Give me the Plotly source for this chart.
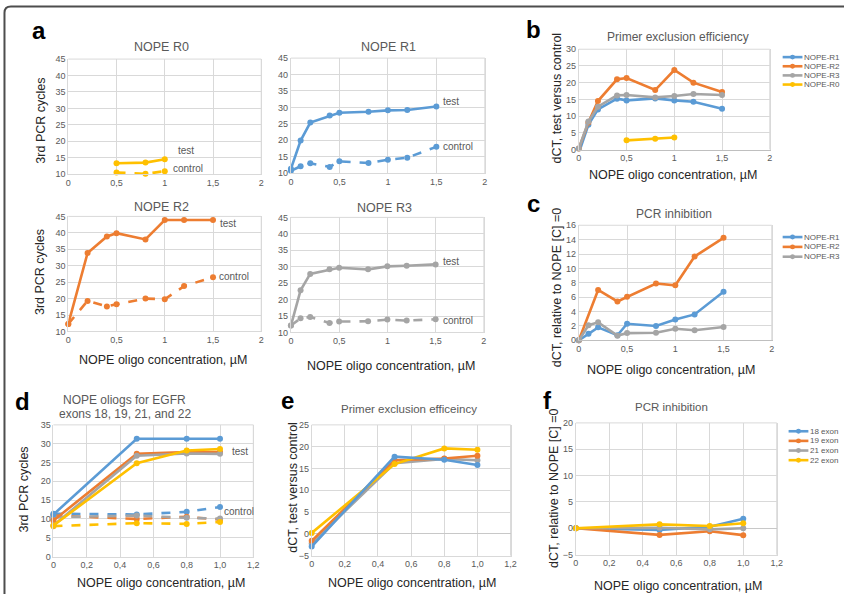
import plotly.graph_objects as go

W, H = 850, 599
FONT = "Liberation Sans, Arial, sans-serif"
BLUE, ORANGE, GREY, YELLOW = "#5B9BD5", "#ED7D31", "#A5A5A5", "#FFC000"
GRID = "#D9D9D9"
TICKC = "#595959"

# ---------------- data ----------------
x_r0 = [0.5, 0.8, 1.0]
r0_test = [13.3, 13.5, 14.5]
r0_ctrl = [10.5, 10.1, 10.9]

x_a = [0, 0.1, 0.2, 0.4, 0.5, 0.8, 1.0, 1.2, 1.5]
r1_test = [11.3, 19.9, 25.4, 27.5, 28.4, 28.7, 29.1, 29.2, 30.3]
r1_ctrl = [10.7, 12.1, 13.0, 11.9, 13.6, 13.1, 14.1, 14.7, 18.0]

x_r2 = [0, 0.2, 0.4, 0.5, 0.8, 1.0, 1.2, 1.5]
r2_test = [12.3, 33.9, 38.9, 39.9, 38.0, 43.9, 43.9, 43.9]
r2_ctrl = [12.3, 19.3, 17.6, 18.3, 20.0, 19.8, 23.8, 26.5]

r3_test = [12.1, 22.8, 27.8, 29.2, 29.7, 29.2, 30.1, 30.3, 30.7]
r3_ctrl = [12.1, 14.3, 14.7, 12.9, 13.3, 13.4, 13.9, 13.6, 14.0]

b_r1 = [-1.0, 7.4, 12.0, 15.2, 14.7, 15.3, 14.7, 14.3, 12.2]
b_r2 = [0.3, 8.1, 14.5, 21.0, 21.4, 17.8, 23.8, 20.0, 17.2]
b_r3 = [0.3, 8.4, 12.8, 16.2, 16.3, 15.6, 16.0, 16.6, 16.3]
b_r0 = [2.75, 3.2, 3.6]

c_r1 = [0, 0.9, 1.8, 0.7, 2.3, 2.0, 2.9, 3.6, 6.75]
c_r2 = [0, 7.0, 5.4, 6.05, 7.9, 7.65, 11.65, 14.25]
c_r3 = [0, 2.1, 2.5, 0.65, 1.0, 1.05, 1.6, 1.4, 1.85]

x_d = [0, 0.5, 0.8, 1.0]
d18_test = [11.2, 31.3, 31.3, 31.3]
d18_ctrl = [11.4, 11.2, 11.9, 13.2]
d19_test = [9.6, 27.3, 27.8, 27.8]
d19_ctrl = [10.9, 10.0, 10.6, 9.8]
d21_test = [8.3, 26.8, 27.4, 27.3]
d21_ctrl = [10.5, 10.9, 10.3, 10.1]
d22_test = [8.3, 24.8, 28.2, 28.6]
d22_ctrl = [8.1, 8.9, 8.7, 9.2]

e18 = [-2.9, 17.7, 17.0, 15.8]
e19 = [-1.6, 16.9, 17.3, 17.9]
e21 = [-2.2, 16.2, 17.2, 16.9]
e22 = [0.2, 16.0, 19.6, 19.3]

f18 = [0, -0.3, 0.3, 1.8]
f19 = [0, -1.25, -0.55, -1.3]
f21 = [0, 0.1, -0.2, 0.0]
f22 = [0, 0.75, 0.45, 0.95]

xt_a = [0, 0.5, 1, 1.5, 2]
xt_a_text = ["0", "0,5", "1", "1,5", "2"]
xt_d = [0, 0.2, 0.4, 0.6, 0.8, 1.0, 1.2]
xt_d_text = ["0", "0,2", "0,4", "0,6", "0,8", "1,0", "1,2"]

legend_b = ["NOPE-R1", "NOPE-R2", "NOPE-R3", "NOPE-R0"]
legend_c = ["NOPE-R1", "NOPE-R2", "NOPE-R3"]
legend_f = ["18 exon", "19 exon", "21 exon", "22 exon"]

# ---------------- helpers ----------------
def fx(px):
    return px / W

def fy(py):
    return 1 - py / H

fig = go.Figure()
layout = dict(
    width=W, height=H, margin=dict(l=0, r=0, t=0, b=0),
    paper_bgcolor="white", plot_bgcolor="white", showlegend=False,
    font=dict(family=FONT, color=TICKC),
)
annotations = []
shapes = []

# panel boxes (pixel coordinates): x0, x1, ytop, ybottom, xrange, yrange, ydtick, xticks
panels = {
    1: (66, 261, 55, 172, [0, 2], [10, 45], 5, "a"),
    2: (291, 487, 54, 171, [0, 2], [10, 45], 5, "a"),
    3: (66, 261, 215, 332, [0, 2], [10, 45], 5, "a"),
    4: (291, 486, 216, 333, [0, 2], [10, 45], 5, "a"),
    5: (582, 775, 45, 147, [0, 2], [0, 30], 5, "a"),
    6: (582, 777, 224, 341, [0, 2], [0, 16], 2, "a"),
    7: (51, 253, 427, 561, [0, 1.2], [0, 35], 5, "d"),
    8: (312, 513, 427, 560, [0, 1.2], [-5, 25], 5, "d"),
    9: (579, 782, 425, 559, [0, 1.2], [-5, 20], 5, "d"),
}

for i, (x0, x1, yt, yb, xr, yr, dt, kind) in panels.items():
    sfx = "" if i == 1 else str(i)
    tv, tt = (xt_a, xt_a_text) if kind == "a" else (xt_d, xt_d_text)
    dark_x = i in (5, 6)
    layout["xaxis" + sfx] = dict(
        domain=[fx(x0), fx(x1)], anchor="y" + sfx, range=xr,
        tickvals=tv, ticktext=tt, showgrid=True, gridcolor=GRID, gridwidth=1,
        showline=True, linecolor="#BFBFBF" if dark_x else GRID, linewidth=1, mirror=False,
        zeroline=False, ticks="", tickfont=dict(size=9, color=TICKC, family=FONT),
        fixedrange=True,
    )
    layout["yaxis" + sfx] = dict(
        domain=[fy(yb), fy(yt)], anchor="x" + sfx, range=yr, dtick=dt, tick0=0,
        showgrid=True, gridcolor=GRID, gridwidth=1,
        showline=True, linecolor=GRID, linewidth=1, mirror=True,
        zeroline=(i in (8, 9)), zerolinecolor="#C8C8C8", zerolinewidth=1.2,
        ticks="", tickfont=dict(size=9, color=TICKC, family=FONT),
        fixedrange=True,
    )
    xd = "x" + sfx + " domain" if sfx else "x domain"
    yd = "y" + sfx + " domain" if sfx else "y domain"
    shapes.append(dict(type="line", xref=xd, yref=yd, x0=1, x1=1, y0=0, y1=1,
                       line=dict(color=GRID, width=1), layer="below"))
    shapes.append(dict(type="line", xref=xd, yref=yd, x0=0, x1=1, y0=1, y1=1,
                       line=dict(color=GRID, width=1), layer="below"))


def add(x, y, color, i, dash="solid", name=None):
    sfx = "" if i == 1 else str(i)
    fig.add_trace(go.Scatter(
        x=x, y=y, mode="lines+markers", name=name,
        line=dict(color=color, width=2.6, dash="dash" if dash == "dash" else "solid"),
        marker=dict(color=color, size=6),
        xaxis="x" + sfx, yaxis="y" + sfx, cliponaxis=False, showlegend=False,
    ))

# a
add(x_r0, r0_ctrl, YELLOW, 1, "dash")
add(x_r0, r0_test, YELLOW, 1)
add(x_a, r1_ctrl, BLUE, 2, "dash")
add(x_a, r1_test, BLUE, 2)
add(x_r2, r2_ctrl, ORANGE, 3, "dash")
add(x_r2, r2_test, ORANGE, 3)
add(x_a, r3_ctrl, GREY, 4, "dash")
add(x_a, r3_test, GREY, 4)
# b
add(x_a, b_r1, BLUE, 5, name="NOPE-R1")
add(x_a, b_r2, ORANGE, 5, name="NOPE-R2")
add(x_a, b_r3, GREY, 5, name="NOPE-R3")
add(x_r0, b_r0, YELLOW, 5, name="NOPE-R0")
# c
add(x_a, c_r1, BLUE, 6, name="NOPE-R1")
add(x_r2, c_r2, ORANGE, 6, name="NOPE-R2")
add(x_a, c_r3, GREY, 6, name="NOPE-R3")
# d
for ctrl, col in [(d18_ctrl, BLUE), (d19_ctrl, ORANGE), (d21_ctrl, GREY), (d22_ctrl, YELLOW)]:
    add(x_d, ctrl, col, 7, "dash")
for test, col in [(d18_test, BLUE), (d19_test, ORANGE), (d21_test, GREY), (d22_test, YELLOW)]:
    add(x_d, test, col, 7)
# e
for ser, col in [(e21, GREY), (e19, ORANGE), (e22, YELLOW), (e18, BLUE)]:
    add(x_d, ser, col, 8)
# f
for ser, col in [(f18, BLUE), (f19, ORANGE), (f21, GREY), (f22, YELLOW)]:
    add(x_d, ser, col, 9)


def ptext(px, py, text, size, color="#404040", bold=False, angle=0, xanchor="center"):
    annotations.append(dict(
        x=fx(px), y=fy(py), xref="paper", yref="paper", text=("<b>%s</b>" % text) if bold else text,
        showarrow=False, textangle=angle, xanchor=xanchor, yanchor="middle",
        font=dict(family=FONT, size=size, color=color),
    ))


def dtext(i, x, y, text):
    sfx = "" if i == 1 else str(i)
    annotations.append(dict(
        x=x, y=y, xref="x" + sfx, yref="y" + sfx, text=text, showarrow=False,
        xanchor="left", yanchor="middle", font=dict(family=FONT, size=10, color=TICKC),
    ))

# panel letters
for (px, py, t) in [(36, 26, "a"), (536, 25, "b"), (536, 202, "c"), (20, 403, "d"), (288, 402, "e"), (550, 402, "f")]:
    ptext(px, py, t, 24, "#000000", bold=True)

# titles
ptext(160, 43, "NOPE R0", 12.5, TICKC)
ptext(390, 43, "NOPE R1", 12.5, TICKC)
ptext(160, 205, "NOPE R2", 12.5, TICKC)
ptext(386, 206, "NOPE R3", 12.5, TICKC)
ptext(682, 33, "Primer exclusion efficiency", 12, TICKC)
ptext(678, 213, "PCR inhibition", 12, TICKC)
ptext(123, 402, "NOPE oliogs for EGFR", 12, TICKC)
ptext(123, 416, "exons 18, 19, 21, and 22", 12, TICKC)
ptext(410, 411, "Primer exclusion efficeincy", 11.5, TICKC)
ptext(676, 409, "PCR inhibition", 11.5, TICKC)

# axis titles
AX = "#262626"
AS = 12.5
ptext(38, 118, "3rd PCR cycles", AS, AX, angle=-90)
ptext(38, 272, "3rd PCR cycles", AS, AX, angle=-90)
ptext(162, 361, "NOPE oligo concentration, µM", AS, AX)
ptext(392, 367, "NOPE oligo concentration, µM", AS, AX)
ptext(560, 95, "dCT, test versus control", AS, AX, angle=-90)
ptext(677, 173, "NOPE oligo concentration, µM", AS, AX)
ptext(560, 288, "dCT, relative to NOPE [C] =0", AS, AX, angle=-90)
ptext(675, 371, "NOPE oligo concentration, µM", AS, AX)
ptext(21, 493, "3rd PCR cycles", AS, AX, angle=-90)
ptext(160, 588, "NOPE oligo concentration, µM", AS, AX)
ptext(293, 490, "dCT, test versus control", AS, AX, angle=-90)
ptext(413, 588, "NOPE oligo concentration, µM", AS, AX)
ptext(557, 492, "dCT, relative to NOPE [C] =0", AS, AX, angle=-90)
ptext(682, 591, "NOPE oligo concentration, µM", AS, AX)

# test / control labels
dtext(1, 1.12, 17.1, "test")
dtext(1, 1.06, 11.8, "control")
dtext(2, 1.55, 31.9, "test")
dtext(2, 1.55, 18.0, "control")
dtext(3, 1.55, 42.9, "test")
dtext(3, 1.54, 26.7, "control")
dtext(4, 1.56, 31.6, "test")
dtext(4, 1.56, 13.5, "control")
dtext(7, 1.06, 27.9, "test")
dtext(7, 1.01, 12.0, "control")

# manual legends
def legend(px0, ys, names, colors):
    for py, nm, col in zip(ys, names, colors):
        shapes.append(dict(type="line", xref="paper", yref="paper", x0=fx(px0), x1=fx(px0 + 20),
                           y0=fy(py), y1=fy(py), line=dict(color=col, width=2.6)))
        shapes.append(dict(type="circle", xref="paper", yref="paper",
                           x0=fx(px0 + 10 - 2.5), x1=fx(px0 + 10 + 2.5),
                           y0=fy(py + 2.5), y1=fy(py - 2.5), fillcolor=col, line=dict(color=col, width=0)))
        annotations.append(dict(x=fx(px0 + 21), y=fy(py), xref="paper", yref="paper", text=nm,
                                showarrow=False, xanchor="left", yanchor="middle", borderpad=0,
                                font=dict(family=FONT, size=8, color=TICKC)))

legend(788, [53, 62.3, 71.6, 80.9], legend_b, [BLUE, ORANGE, GREY, YELLOW])
legend(788, [236, 246, 256], legend_c, [BLUE, ORANGE, GREY])
legend(794, [433.5, 443.3, 453.1, 462.9], legend_f, [BLUE, ORANGE, GREY, YELLOW])

# outer frame (top and left edges, rounded corner)
shapes.append(dict(type="path", xref="paper", yref="paper",
                   path="M %f %f L %f %f Q %f %f %f %f L %f %f" % (
                       fx(1.5), fy(599), fx(1.5), fy(8), fx(1.5), fy(1.5), fx(8), fy(1.5), fx(850), fy(1.5)),
                   line=dict(color="#4D4D4D", width=2)))

layout["annotations"] = annotations
layout["shapes"] = shapes
fig.update_layout(**layout)
fig.write_html("out.html", config={"displayModeBar": False})

# remove the default page margin so the 850x599 figure fills the window exactly
with open("out.html", "r", encoding="utf-8") as fh:
    html = fh.read()
html = html.replace("<head>", "<head><style>html,body{margin:0;padding:0;overflow:hidden;}</style>", 1)
with open("out.html", "w", encoding="utf-8") as fh:
    fh.write(html)
